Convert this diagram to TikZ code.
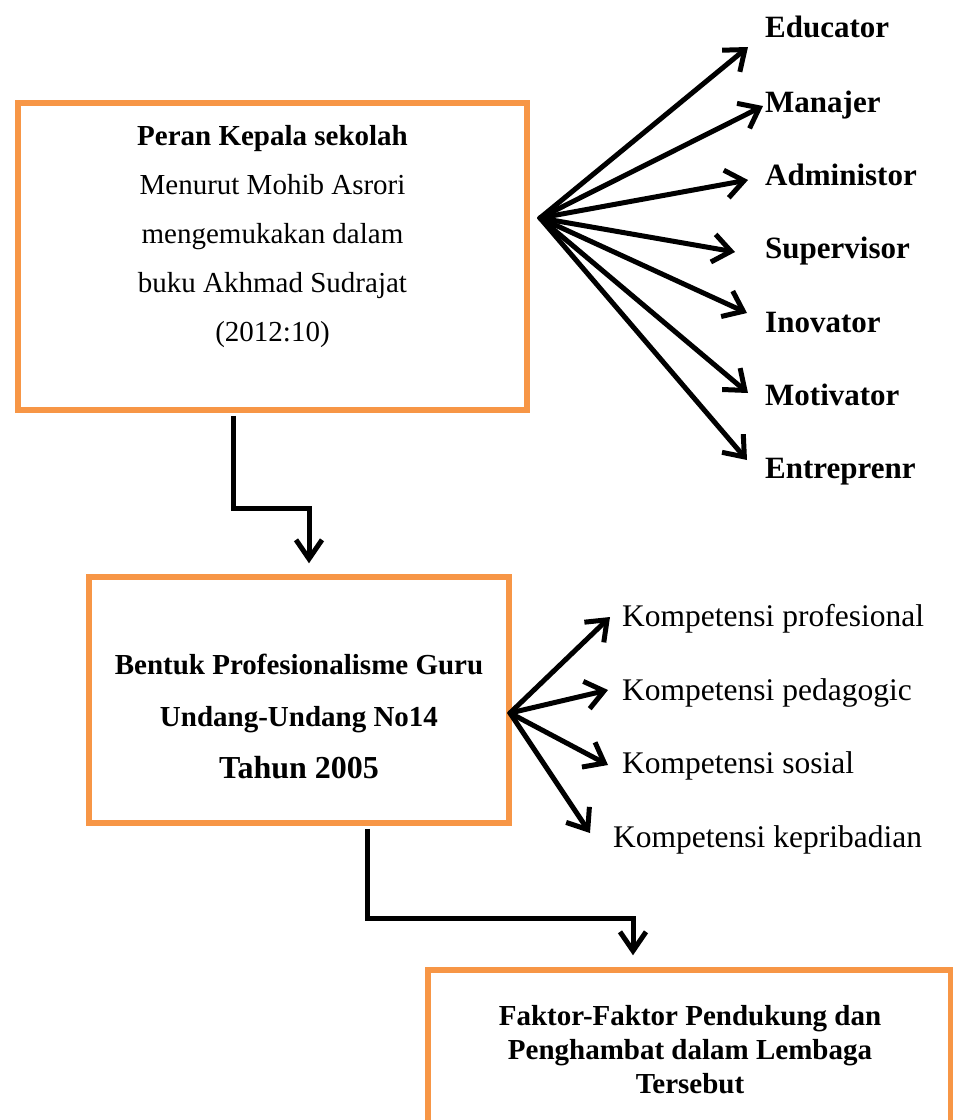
\documentclass[tikz,border=0pt]{standalone}
\usepackage{fontspec}
\setmainfont{Liberation Serif}
\usetikzlibrary{arrows.meta,calc}
\definecolor{boxorange}{HTML}{F79646}
\begin{document}
\begin{tikzpicture}[x=1pt,y=-1pt,
  obox/.style={draw=boxorange, line width=5.5pt, inner sep=0pt},
  fanarrow/.style={line width=5pt, line cap=round, -{Straight Barb[length=18pt,width=28pt]}},
  elbow/.style={line width=5pt, line join=miter, -{Straight Barb[length=19pt,width=26pt]}},
  roleb/.style={anchor=base west, inner sep=0pt, font=\bfseries\fontsize{31}{36}\selectfont},
  komp/.style={anchor=base west, inner sep=0pt, font=\fontsize{31.5}{36}\selectfont},
  btext/.style={align=center, inner sep=0pt}]
\useasboundingbox (0,0) rectangle (953,1120);
\clip (0,0) rectangle (953,1120);

% boxes
\node[obox, minimum width=509pt, minimum height=307pt] (b1) at (272.5,256.5) {};
\node[obox, minimum width=420pt, minimum height=246pt] (b2) at (299,700) {};
\node[obox, minimum width=523pt, minimum height=260pt] (b3) at (689.5,1100) {};

% box texts
\node[btext, font=\fontsize{29}{49}\selectfont] (t1) at (272.5,237)
  {\textbf{Peran Kepala sekolah}\\Menurut Mohib Asrori\\mengemukakan dalam\\buku Akhmad Sudrajat\\(2012:10)};
\node[btext, font=\bfseries\fontsize{29}{52}\selectfont] (t2) at (299,716)
  {Bentuk Profesionalisme Guru\\Undang-Undang No14\\{\fontsize{32}{52}\selectfont Tahun 2005}};
\node[btext, font=\bfseries\fontsize{29}{34}\selectfont] (t3) at (690,1050)
  {Faktor-Faktor Pendukung dan\\Penghambat dalam Lembaga\\Tersebut};

% role labels
\node[roleb] (l1) at (765,37) {Educator};
\node[roleb] (l2) at (765,112) {Manajer};
\node[roleb] (l3) at (765,185) {Administor};
\node[roleb] (l4) at (765,258) {Supervisor};
\node[roleb] (l5) at (765,332) {Inovator};
\node[roleb] (l6) at (765,405) {Motivator};
\node[roleb] (l7) at (765,478) {Entreprenr};

% competence labels
\node[komp] (c1) at (622,626) {Kompetensi profesional};
\node[komp] (c2) at (622,700) {Kompetensi pedagogic};
\node[komp] (c3) at (622,773) {Kompetensi sosial};
\node[komp] (c4) at (613,847) {Kompetensi kepribadian};

% fan 1
\coordinate (f1) at (540,218);
\coordinate (r1) at (748,47);
\coordinate (r2) at (763,106);
\coordinate (r3) at (748,180);
\coordinate (r4) at (735,252);
\coordinate (r5) at (747,313);
\coordinate (r6) at (748,393);
\coordinate (r7) at (747,460);
\foreach \r in {r1,r2,r3,r4,r5,r6,r7}
  \draw[fanarrow] (f1) -- (\r);

% fan 2
\coordinate (f2) at (510,713);
\coordinate (s1) at (610,617);
\coordinate (s2) at (608,690);
\coordinate (s3) at (608,765);
\coordinate (s4) at (590,833);
\foreach \s in {s1,s2,s3,s4}
  \draw[fanarrow] (f2) -- (\s);

% elbow connectors
\coordinate (k1) at (233,508);
\coordinate (k2) at (309,508);
\draw[elbow, shorten <=3pt, shorten >=11pt] (b1.south -| k1) -- (k1) -- (k2) -- (b2.north -| k2);
\coordinate (k3) at (367,918);
\coordinate (k4) at (633,918);
\draw[elbow, shorten <=3pt, shorten >=12pt] (b2.south -| k3) -- (k3) -- (k4) -- (b3.north -| k4);
\end{tikzpicture}
\end{document}
